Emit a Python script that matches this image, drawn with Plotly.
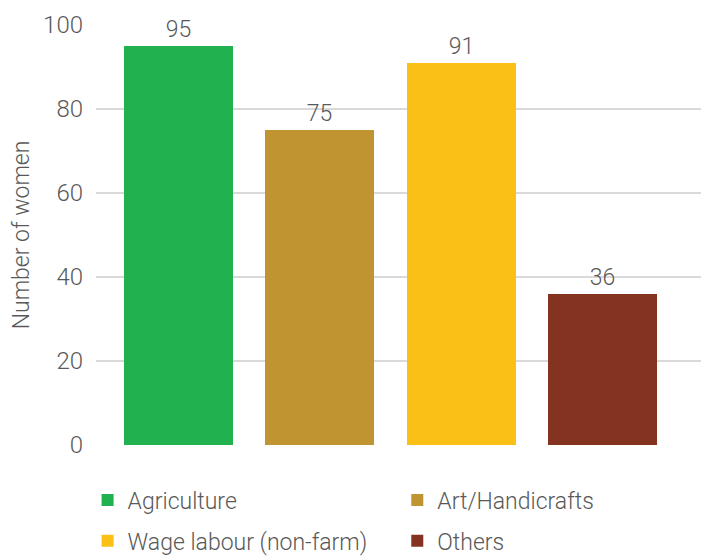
import plotly.graph_objects as go

categories = ["Agriculture", "Art/Handicrafts", "Wage labour (non-farm)", "Others"]
values = [95, 75, 91, 36]
colors = ["#22B14F", "#C09431", "#FBC015", "#83331F"]
legend_ids = ["legend", "legend2", "legend", "legend2"]
y_ticks = [0, 20, 40, 60, 80, 100]

font_family = "Roboto Light, Roboto"
text_color = "#595959"

fig = go.Figure()
for i, (cat, val, col, lg) in enumerate(zip(categories, values, colors, legend_ids)):
    fig.add_trace(go.Bar(
        x=[i], y=[val], name=cat, marker=dict(color=col, line=dict(width=0)),
        width=0.771, text=[str(val)], textposition="outside",
        textfont=dict(family=font_family, size=23, color=text_color, weight=300),
        cliponaxis=False, showlegend=True, legend=lg, legendgroup=cat,
    ))

legend_common = dict(
    orientation="v", xref="paper", yref="container",
    xanchor="left", y=0.141, yanchor="top",
    font=dict(family=font_family, size=23, color=text_color, weight=300),
    itemwidth=30, tracegroupgap=8, bgcolor="rgba(0,0,0,0)",
)

fig.update_layout(
    width=701, height=557,
    margin=dict(l=96, r=0, t=25, b=112),
    paper_bgcolor="white", plot_bgcolor="white",
    font=dict(family=font_family, color=text_color, weight=300),
    bargap=0,
    xaxis=dict(range=[-0.584, 3.697], showticklabels=False, showgrid=False,
               zeroline=False, showline=False, ticks=""),
    yaxis=dict(range=[0, 100], tickvals=y_ticks, showgrid=True,
               gridcolor="#D9D9D9", gridwidth=1.5, zeroline=False,
               tickfont=dict(family=font_family, size=24, color=text_color, weight=300),
               ticklabelstandoff=12,
               title=dict(text="Number of women", standoff=7,
                          font=dict(family=font_family, size=23, color=text_color, weight=300))),
    legend=dict(x=-0.0139, **legend_common),
    legend2=dict(x=0.498, **legend_common),
)

fig.write_html("out.html")
